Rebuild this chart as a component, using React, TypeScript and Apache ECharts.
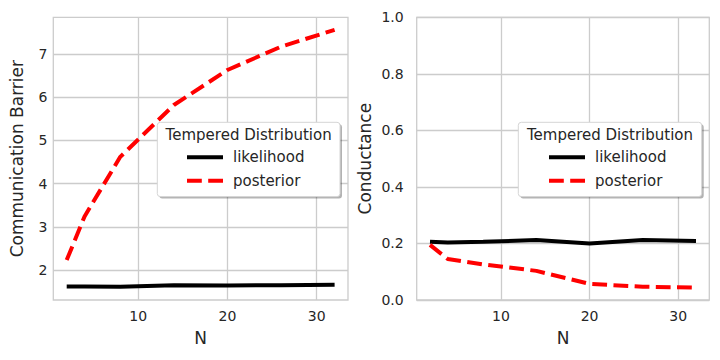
import React, { useEffect, useRef } from "react";
import * as echarts from "echarts";

const nValues = [2, 4, 8, 14, 20, 26, 32];
const barrierLikelihood = [1.62, 1.62, 1.61, 1.65, 1.64, 1.65, 1.66];
const barrierPosterior = [2.23, 3.24, 4.62, 5.82, 6.63, 7.17, 7.56];
const conductanceLikelihood = [0.206, 0.203, 0.206, 0.212, 0.2, 0.212, 0.209];
const conductancePosterior = [0.195, 0.145, 0.126, 0.103, 0.057, 0.047, 0.044];
const xTicks = [10, 20, 30];
const barrierTicks = [2, 3, 4, 5, 6, 7];
const seriesNames = ["likelihood", "posterior"];
const legendTitle = "Tempered Distribution";

const FONT = "DejaVu Sans";
const TXT = "#262626";
const GRID = "#cccccc";

function pairs(xs: number[], ys: number[]) {
  return xs.map((x, i) => [x, ys[i]]);
}

export default function App() {
  const ref = useRef<HTMLDivElement>(null);
  useEffect(() => {
    if (!ref.current) return;
    const chart = echarts.init(ref.current, null, { renderer: "svg" });
    const grids = [
      { left: 53.3, top: 17.3, width: 294.7, height: 282.7 },
      { left: 416.7, top: 17.3, width: 292.6, height: 282.7 },
    ];
    const xAxisBase = (gi: number) => ({
      type: "value",
      gridIndex: gi,
      min: 0.5,
      max: 33.5,
      name: "N",
      nameLocation: "middle",
      nameGap: 29,
      nameTextStyle: { fontFamily: FONT, fontSize: 17, color: TXT },
      axisLine: { show: false },
      axisTick: { show: false, customValues: xTicks },
      axisLabel: { customValues: xTicks, fontFamily: FONT, fontSize: 14, color: TXT, margin: 9 },
      splitLine: { show: true, lineStyle: { color: GRID, width: 1.3 } },
    });
    const lineSeries = (name: string, gi: number, data: number[][], color: string, dashed: boolean) => ({
      type: "line",
      name,
      xAxisIndex: gi,
      yAxisIndex: gi,
      data,
      symbol: "none",
      showSymbol: false,
      z: 3,
      lineStyle: {
        color,
        width: 4,
        type: dashed ? [14.8, 6.4] : "solid",
        cap: "butt",
      },
      itemStyle: { color },
    });
    const legendBox = (x: number, w: number) => [
      {
        type: "rect",
        z: 10,
        shape: { x: x + 2, y: 124.3, width: w, height: 74.3, r: 3 },
        style: { fill: "rgba(0,0,0,0.3)" },
        silent: true,
      },
      {
        type: "rect",
        z: 11,
        shape: { x, y: 122.3, width: w, height: 74.3, r: 3 },
        style: { fill: "#ffffff", stroke: "#d5d5d5", lineWidth: 1 },
        silent: true,
      },
      {
        type: "text",
        z: 12,
        x: x + w / 2,
        y: 135,
        style: {
          text: legendTitle,
          fontFamily: FONT,
          fontSize: 15,
          fill: TXT,
          align: "center",
          verticalAlign: "middle",
        },
        silent: true,
      },
    ];
    const legendBase = (left: number) => ({
      orient: "vertical",
      left,
      top: 149.3,
      padding: 0,
      itemWidth: 36,
      itemHeight: 16,
      itemGap: 7.4,
      z: 20,
      data: seriesNames,
      selectedMode: false,
      lineStyle: { width: 4 },
      itemStyle: { opacity: 0 },
      textStyle: { fontFamily: FONT, fontSize: 15, color: TXT, lineHeight: 16, padding: [0, 0, 0, 5] },
    });
    chart.setOption({
      animation: false,
      backgroundColor: "#ffffff",
      grid: grids.map((g) => ({ ...g, show: true, borderColor: GRID, borderWidth: 1.3, backgroundColor: "transparent" })),
      xAxis: [xAxisBase(0), xAxisBase(1)],
      yAxis: [
        {
          type: "value",
          gridIndex: 0,
          min: 1.306,
          max: 7.85,
          name: "Communication Barrier",
          nameLocation: "middle",
          nameGap: 28,
          nameTextStyle: { fontFamily: FONT, fontSize: 17, color: TXT },
          axisLine: { show: false },
          axisTick: { show: false, customValues: barrierTicks },
          axisLabel: { customValues: barrierTicks, fontFamily: FONT, fontSize: 14, color: TXT, margin: 6 },
          splitLine: { show: true, lineStyle: { color: GRID, width: 1.3 } },
        },
        {
          type: "value",
          gridIndex: 1,
          min: 0,
          max: 1,
          interval: 0.2,
          name: "Conductance",
          nameLocation: "middle",
          nameGap: 43,
          nameTextStyle: { fontFamily: FONT, fontSize: 17, color: TXT },
          axisLine: { show: false },
          axisTick: { show: false },
          axisLabel: {
            fontFamily: FONT,
            fontSize: 14,
            color: TXT,
            margin: 13,
            formatter: (v: number) => v.toFixed(1),
          },
          splitLine: { show: true, lineStyle: { color: GRID, width: 1.3 } },
        },
      ],
      legend: [legendBase(185), legendBase(547)],
      graphic: [...legendBox(157.3, 182.7), ...legendBox(518.3, 183.4)],
      series: [
        lineSeries(seriesNames[0], 0, pairs(nValues, barrierLikelihood), "#000000", false),
        lineSeries(seriesNames[1], 0, pairs(nValues, barrierPosterior), "#ff0000", true),
        lineSeries(seriesNames[0], 1, pairs(nValues, conductanceLikelihood), "#000000", false),
        lineSeries(seriesNames[1], 1, pairs(nValues, conductancePosterior), "#ff0000", true),
      ],
    });
    return () => chart.dispose();
  }, []);
  return (
    <div
      ref={ref}
      style={{ position: "absolute", left: 0, top: 0, width: 720, height: 360, background: "#fff" }}
    />
  );
}
